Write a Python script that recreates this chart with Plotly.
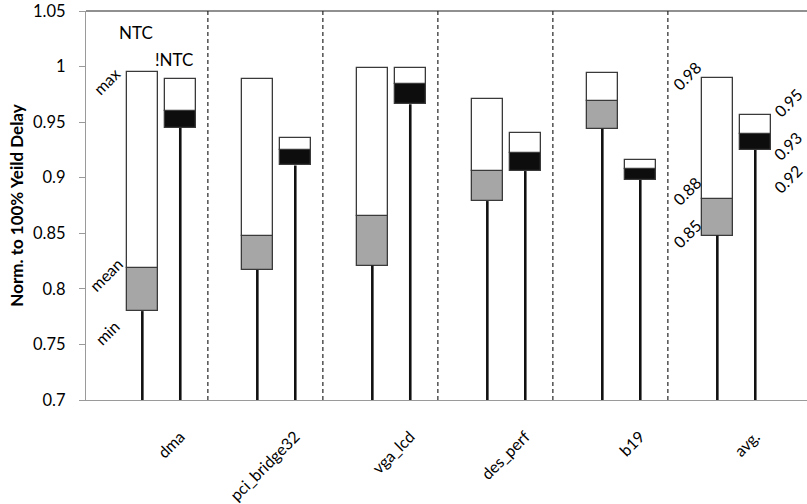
import plotly.graph_objects as go

categories = ["dma", "pci_bridge32", "vga_lcd", "des_perf", "b19", "avg."]
ntc_min = [0.780, 0.817, 0.821, 0.879, 0.944, 0.848]
ntc_mean = [0.819, 0.848, 0.866, 0.906, 0.969, 0.881]
ntc_max = [0.995, 0.989, 0.999, 0.971, 0.994, 0.990]
notc_min = [0.945, 0.911, 0.966, 0.906, 0.898, 0.925]
notc_mean = [0.960, 0.925, 0.984, 0.922, 0.908, 0.939]
notc_max = [0.989, 0.936, 0.999, 0.940, 0.916, 0.956]
y_ticks = [0.7, 0.75, 0.8, 0.85, 0.9, 0.95, 1.0, 1.05]
y_tick_text = ["0.7", "0.75", "0.8", "0.85", "0.9", "0.95", "1", "1.05"]
avg_left_labels = ["0.98", "0.88", "0.85"]
avg_right_labels = ["0.95", "0.93", "0.92"]

FONT = "Lato"
OFF = 0.165
BW = 0.27
Y0 = 0.7

n = len(categories)
x_ntc = [i - OFF for i in range(n)]
x_not = [i + OFF for i in range(n)]

fig = go.Figure()
line_col = "#3a3a3a"

def whisker(xs, lows):
    wx, wy = [], []
    for x, lo in zip(xs, lows):
        wx += [x, x, None]
        wy += [Y0, lo, None]
    return go.Scatter(x=wx, y=wy, mode="lines", line=dict(color="#111", width=2.6),
                      hoverinfo="skip", showlegend=False)

fig.add_trace(whisker(x_ntc, ntc_min))
fig.add_trace(whisker(x_not, notc_min))

# NTC boxes
fig.add_trace(go.Bar(x=x_ntc, base=ntc_min, y=[m - lo for m, lo in zip(ntc_mean, ntc_min)],
                     width=BW, marker=dict(color="#a6a6a6", line=dict(color=line_col, width=1.3)),
                     showlegend=False))
fig.add_trace(go.Bar(x=x_ntc, base=ntc_mean, y=[h - m for h, m in zip(ntc_max, ntc_mean)],
                     width=BW, marker=dict(color="white", line=dict(color=line_col, width=1.3)),
                     showlegend=False))
# !NTC boxes
fig.add_trace(go.Bar(x=x_not, base=notc_min, y=[m - lo for m, lo in zip(notc_mean, notc_min)],
                     width=BW, marker=dict(color="#0d0d0d", line=dict(color=line_col, width=1.3)),
                     showlegend=False))
fig.add_trace(go.Bar(x=x_not, base=notc_mean, y=[h - m for h, m in zip(notc_max, notc_mean)],
                     width=BW, marker=dict(color="white", line=dict(color=line_col, width=1.3)),
                     showlegend=False))

shapes = []
for i in range(n - 1):
    shapes.append(dict(type="line", xref="x", yref="paper", x0=i + 0.405, x1=i + 0.405, y0=0, y1=1,
                       line=dict(color="#111", width=1.1, dash="4px,3px"), layer="below"))
shapes.append(dict(type="line", xref="paper", yref="paper", x0=0, x1=1, y0=1, y1=1,
                   line=dict(color="#222", width=1.2)))

# pixel helpers for annotation placement
L, R, T, B = 86, 807, 11, 403

def px(xp):
    return (xp - L) / (R - L)

def py(yp):
    return (B - yp) / (B - T)

ann = []
def add_text(text, xp, yp, size=16, angle=0):
    ann.append(dict(text=text, xref="paper", yref="paper", x=px(xp), y=py(yp), showarrow=False,
                    xanchor="center", yanchor="middle", textangle=angle,
                    font=dict(family=FONT, size=size, color="black")))

add_text("NTC", 136, 33, size=17)
add_text("!NTC", 174, 60, size=17)
add_text("max", 106, 82, size=16, angle=-45)
add_text("mean", 106, 277, size=16, angle=-45)
add_text("min", 107, 335, size=16, angle=-45)
for t, yp in zip(avg_left_labels, [76, 192, 235]):
    add_text(t, 687, yp, size=16, angle=-45)
for t, yp in zip(avg_right_labels, [103, 147, 180]):
    add_text(t, 788, yp, size=16, angle=-45)

fig.update_layout(
    width=807, height=504,
    margin=dict(l=L, r=0, t=T, b=504 - B),
    paper_bgcolor="white", plot_bgcolor="white",
    barmode="overlay", bargap=0,
    shapes=shapes, annotations=ann,
    font=dict(family=FONT, color="black"),
)
fig.update_xaxes(range=[(L - 161.3) / 115, (807 - 161.3) / 115], showgrid=False, zeroline=False,
                 showline=True, linecolor="#9a9a9a", linewidth=1.3,
                 tickmode="array", tickvals=x_not, ticktext=categories, tickangle=-45,
                 ticks="", ticklabelstandoff=20, tickfont=dict(family=FONT, size=16, color="black"))
fig.update_yaxes(range=[Y0, 1.05], showgrid=False, zeroline=False,
                 showline=True, linecolor="#9a9a9a", linewidth=1.3,
                 tickmode="array", tickvals=y_ticks, ticktext=y_tick_text,
                 ticks="outside", ticklen=6, tickcolor="#9a9a9a", ticklabelstandoff=10,
                 tickfont=dict(family=FONT, size=16.5, color="black"),
                 title=dict(text="<b>Norm. to 100% Yeild Delay</b>", font=dict(family=FONT, size=17),
                            standoff=4))

fig.write_html("out.html")
